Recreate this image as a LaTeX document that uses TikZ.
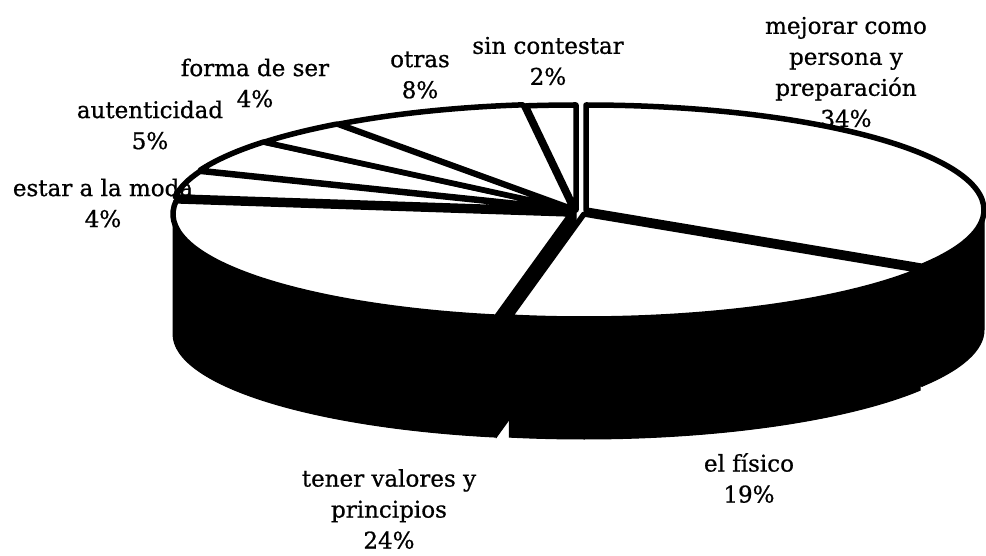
\documentclass[tikz,border=0pt]{standalone}
\usepackage{fontspec}
\setmainfont{DejaVu Serif}
\newfontfamily\lblfont{DejaVu Serif}[FakeBold=0.8]
\usetikzlibrary{calc}
\def\drawtop{\draw[fill=white,line width=5.5pt,line join=round]}
\def\pierad{398pt and 105pt}
\newcommand{\slicetop}[3]{\drawtop (#1) -- ($(#1)+(#2:\pierad)$) arc[start angle=#2,end angle=#3,x radius=398pt,y radius=105pt] -- cycle;}
\newcommand{\sliceface}[2]{\filldraw[line width=1pt] (#1) -- ($(#1)+(#2:\pierad)$) -- ++(0,-120) -- ($(#1)+(0,-120)$) -- cycle;}
\newcommand{\sliceside}[3]{\filldraw[line width=1pt] ($(#1)+(#2:\pierad)$) arc[start angle=#2,end angle=#3,x radius=398pt,y radius=105pt] -- ++(0,-120) arc[start angle=#3,end angle=#2,x radius=398pt,y radius=105pt] -- cycle;}
\tikzset{lbl/.style={align=center,inner sep=0pt,font=\lblfont\fontsize{23}{31}\selectfont}}

\begin{document}
\begin{tikzpicture}[x=1pt,y=1pt]
\useasboundingbox (0,0) rectangle (986,555);
\clip (0,0) rectangle (986,555);
% slice vertices
\coordinate (cmej) at (586,345);
\coordinate (cfis) at (584,341);
\coordinate (cten) at (571,341);
\coordinate (cmoda) at (570,345);
\coordinate (caut) at (570,346);
\coordinate (cforma) at (571,346);
\coordinate (cotras) at (573,346);
\coordinate (csin) at (576,345);
% black sides and cut faces
\sliceside{cmej}{0}{-32.4}
\sliceside{cfis}{-32.4}{-100.8}
\sliceside{cten}{-100.8}{-180}
\sliceface{cmej}{-32.4}
\sliceface{cten}{-100.8}
\sliceface{cmoda}{-187.2}
\sliceface{caut}{-201.6}
\sliceface{cforma}{-219.6}
\sliceface{cotras}{-234}
\sliceface{csin}{-262.8}
% top faces
\slicetop{cmej}{90}{-32.4}
\slicetop{cfis}{-32.4}{-100.8}
\slicetop{cten}{-100.8}{-187.2}
\slicetop{cmoda}{-187.2}{-201.6}
\slicetop{caut}{-201.6}{-219.6}
\slicetop{cforma}{-219.6}{-234}
\slicetop{cotras}{-234}{-262.8}
\slicetop{csin}{-262.8}{-270}
% labels
\node[lbl] (mejorar) at (846,483) {mejorar como\\persona y\\preparación\\34\%};
\node[lbl] (sincontestar) at (548,494) {sin contestar\\2\%};
\node[lbl] (otras) at (420,480) {otras\\8\%};
\node[lbl] (formaser) at (255,472) {forma de ser\\4\%};
\node[lbl] (autenticidad) at (150,430) {autenticidad\\5\%};
\node[lbl] (moda) at (103,352) {estar a la moda\\4\%};
\node[lbl] (valores) at (389,46) {tener valores y\\principios\\24\%};
\node[lbl] (fisico) at (749,77) {el físico\\19\%};
\end{tikzpicture}
\end{document}
